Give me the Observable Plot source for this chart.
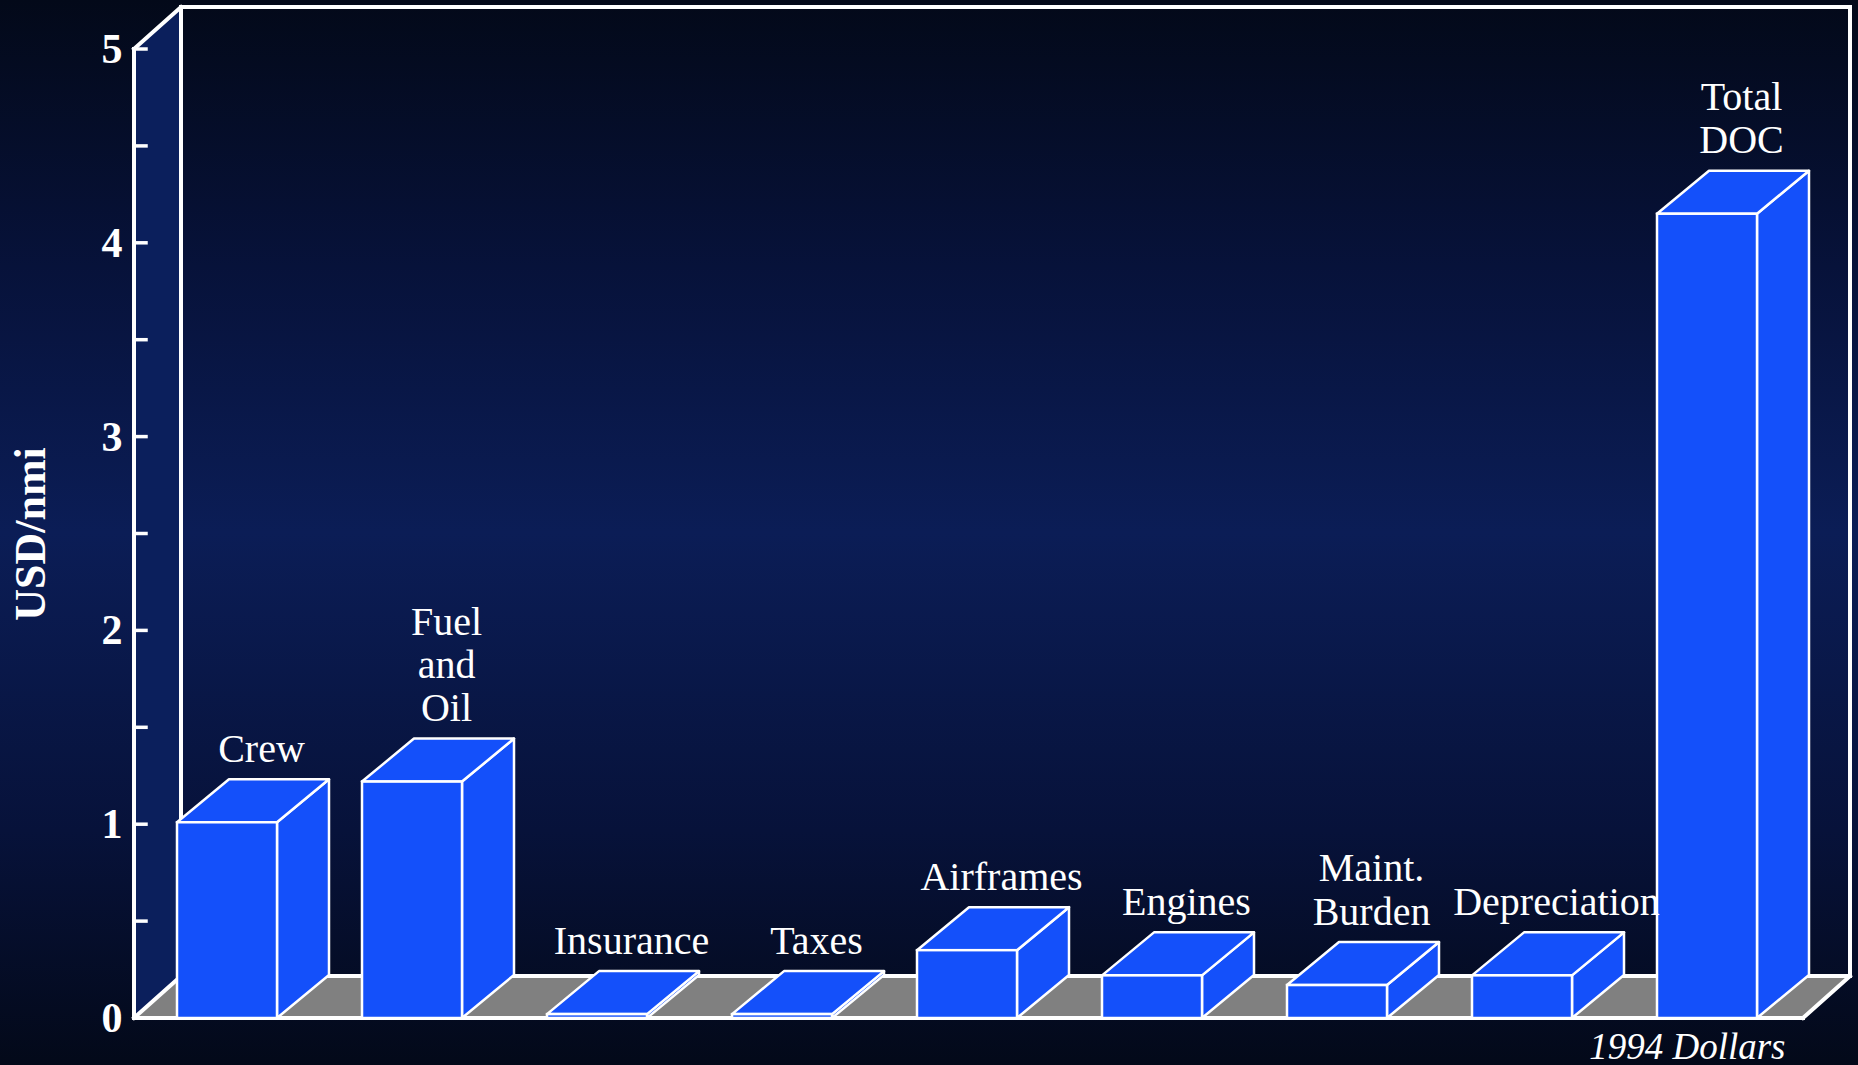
<!DOCTYPE html>
<html>
<head>
<meta charset="utf-8">
<script src="https://cdn.jsdelivr.net/npm/d3@7"></script>
<script src="https://cdn.jsdelivr.net/npm/@observablehq/plot@0.6"></script>
<style>
  html, body { margin: 0; padding: 0; background: #030919; }
  #chart svg { display: block; }
</style>
</head>
<body>
<div id="chart"></div>
<script>
// ---- data ----
const categories = ["Crew", "Fuel and Oil", "Insurance", "Taxes", "Airframes", "Engines", "Maint. Burden", "Depreciation", "Total DOC"];
const barLabels = ["Crew", "Fuel\nand\nOil", "Insurance", "Taxes", "Airframes", "Engines", "Maint.\nBurden", "Depreciation", "Total\nDOC"];
const values = [1.01, 1.22, 0.02, 0.02, 0.35, 0.22, 0.17, 0.22, 4.15];
const yTicks = [0, 1, 2, 3, 4, 5];
const yMinorTicks = [0.5, 1.5, 2.5, 3.5, 4.5];
const yLabel = "USD/nmi";
const note = "1994 Dollars";

const rows = categories.map((c, i) => ({cat: c, label: barLabels[i], value: values[i]}));

// ---- look ----
const BAR = "#1450fa";
const WALL = {dx: 47, dy: -42};
const DEPTH = {dx: 52, dy: -43};

function bw(sx) {
  return typeof sx.bandwidth === "function" ? sx.bandwidth() : sx.bandwidth;
}

// walls, floor and axis frame
function frame(index, scales, values, dims) {
  const sy = scales.y;
  const x0 = dims.marginLeft, x1 = dims.width - dims.marginRight + 4;
  const yb = sy(0), yt = sy(d3.max(yTicks));
  const g = d3.create("svg:g");
  // left side wall
  g.append("polygon")
    .attr("points", [[x0, yb], [x0, yt], [x0 + WALL.dx, yt + WALL.dy], [x0 + WALL.dx, yb + WALL.dy]].join(" "))
    .attr("fill", "#0b1f5c");
  // floor
  g.append("polygon")
    .attr("points", [[x0, yb], [x1, yb], [x1 + WALL.dx, yb + WALL.dy], [x0 + WALL.dx, yb + WALL.dy]].join(" "))
    .attr("fill", "#808080");
  const line = (pts, w) => g.append("polyline")
    .attr("points", pts.join(" "))
    .attr("fill", "none").attr("stroke", "white").attr("stroke-width", w)
    .attr("stroke-linejoin", "miter").attr("stroke-linecap", "square");
  // back wall outline
  line([[x0 + WALL.dx, yb + WALL.dy], [x0 + WALL.dx, yt + WALL.dy], [x1 + WALL.dx, yt + WALL.dy], [x1 + WALL.dx, yb + WALL.dy]], 4);
  // floor back edge
  line([[x0 + WALL.dx, yb + WALL.dy], [x1 + WALL.dx, yb + WALL.dy]], 4);
  // slants
  line([[x0, yt], [x0 + WALL.dx, yt + WALL.dy]], 4);
  line([[x0, yb], [x0 + WALL.dx, yb + WALL.dy]], 4);
  line([[x1, yb], [x1 + WALL.dx, yb + WALL.dy]], 4);
  // floor front edge
  line([[x0, yb], [x1, yb]], 4);
  // front axis line
  line([[x0, yb], [x0, yt]], 4);
  // ticks pointing inward
  for (const t of [...yTicks, ...yMinorTicks]) {
    line([[x0, sy(t)], [x0 + 12, sy(t)]], 3.5);
  }
  return g.node();
}

// top and side faces of the bars
function faces(index, scales, values, dims) {
  const sx = scales.x, sy = scales.y;
  const w = bw(sx);
  const yb = sy(0);
  const g = d3.create("svg:g")
    .attr("fill", BAR).attr("stroke", "white").attr("stroke-width", 2.5).attr("stroke-linejoin", "round");
  for (const r of rows) {
    const xl = sx(r.cat), xr = xl + w, yv = sy(r.value);
    g.append("polygon").attr("points", [[xr, yb], [xr, yv], [xr + DEPTH.dx, yv + DEPTH.dy], [xr + DEPTH.dx, yb + DEPTH.dy]].join(" "));
    g.append("polygon").attr("points", [[xl, yv], [xr, yv], [xr + DEPTH.dx, yv + DEPTH.dy], [xl + DEPTH.dx, yv + DEPTH.dy]].join(" "));
  }
  return g.node();
}

const chart = Plot.plot({
  width: 1858,
  height: 1065,
  marginLeft: 134,
  marginRight: 59,
  marginTop: 49,
  marginBottom: 47,
  style: {
    background: "linear-gradient(to bottom, #030919 0%, #07123a 25%, #0b1d56 50%, #07123a 78%, #030919 100%)",
    fontFamily: "'Liberation Serif', 'Times New Roman', serif",
    color: "white"
  },
  x: {type: "band", domain: categories, paddingInner: 0.46, paddingOuter: 0.23, axis: null},
  y: {domain: [0, 5], axis: null},
  marks: [
    frame,
    Plot.axisY(yTicks, {anchor: "left", tickSize: 0, tickPadding: 12, tickFormat: (d) => String(d), fontSize: 42, fontWeight: "bold", fill: "white", stroke: null, label: null}),
    faces,
    Plot.barY(rows, {x: "cat", y: "value", fill: BAR, stroke: "white", strokeWidth: 2.5, inset: 0}),
    Plot.text(rows, {x: "cat", y: "value", text: "label", dx: 34, dy: -61, lineAnchor: "bottom", lineHeight: 1.08, fontSize: 40, fill: "white"}),
    Plot.text([yLabel], {frameAnchor: "left", rotate: -90, dx: -104, textAnchor: "middle", fontSize: 44, fontWeight: "bold", fill: "white"}),
    Plot.text([note], {frameAnchor: "bottom-right", dx: -14, dy: 40, lineAnchor: "bottom", textAnchor: "end", fontSize: 37, fontStyle: "italic", fill: "white"})
  ]
});

document.getElementById("chart").appendChild(chart);
</script>
</body>
</html>
